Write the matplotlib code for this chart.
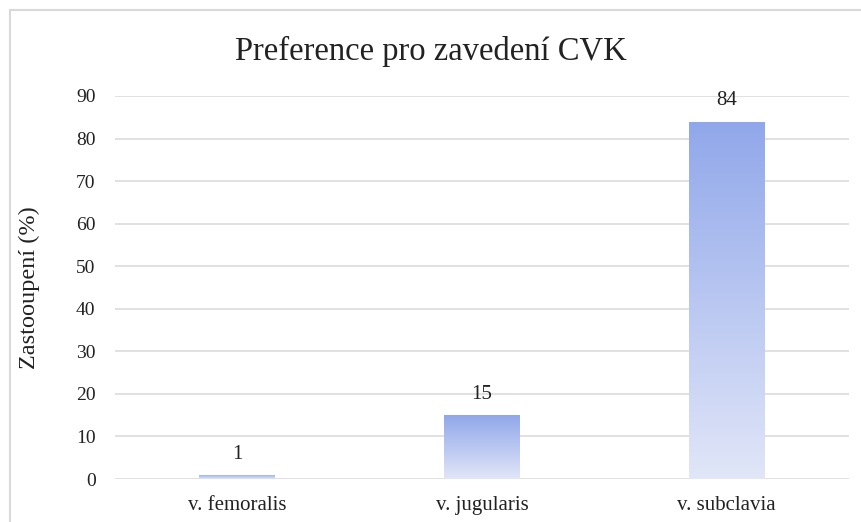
import numpy as np
import matplotlib.pyplot as plt
from matplotlib.patches import Rectangle
from matplotlib.colors import LinearSegmentedColormap

categories = ["v. femoralis", "v. jugularis", "v. subclavia"]
values = [1, 15, 84]
yticks = [0, 10, 20, 30, 40, 50, 60, 70, 80, 90]

plt.rcParams['font.family'] = ['Liberation Serif', 'DejaVu Serif']

W, H = 862, 522
fig = plt.figure(figsize=(W / 100, H / 100), dpi=100)
ax = fig.add_axes([115 / W, 1 - 479 / H, (849 - 115) / W, (479 - 96) / H])

# gradient fill: blue at top of each bar, pale at the bottom
cmap = LinearSegmentedColormap.from_list("grad", ["#E1E6F8", "#90A7EA"])
grad = np.linspace(0, 1, 256).reshape(-1, 1)
width = 0.31
x = np.arange(len(categories))
bars = ax.bar(x, values, width=width, color="none", edgecolor="none", zorder=3)
for b in bars:
    x0, y0 = b.get_x(), b.get_y()
    im = ax.imshow(grad, cmap=cmap, aspect="auto", origin="lower",
                   extent=[x0, x0 + b.get_width(), y0, y0 + b.get_height()],
                   zorder=3)
    im.set_clip_path(b)

for xi, v in zip(x, values):
    ax.text(xi, v + 2.6, str(v), ha="center", va="bottom", fontsize=15, color="#222222")

ax.set_xlim(-0.5, 2.5)
ax.set_ylim(0, 90)
ax.set_yticks(yticks)
ax.set_xticks(x)
ax.set_xticklabels(categories)
ax.tick_params(axis="both", length=0, colors="#222222")
ax.tick_params(axis="y", pad=14, labelsize=14)
ax.tick_params(axis="x", pad=12, labelsize=15)
ax.grid(axis="y", color="#D9D9D9", linewidth=1.1, zorder=0)
ax.set_axisbelow(True)
for s in ax.spines.values():
    s.set_visible(False)

ax.set_ylabel("Zastooupení (%)", fontsize=17.5, color="#222222", va="center")
ax.yaxis.set_label_coords((29 - 115) / (849 - 115), 0.5)
fig.text(0.5, 1 - 60 / H, "Preference pro zavedení CVK", ha="center", va="baseline",
         fontsize=23.5, color="#222222")

# chart border (cropped at right and bottom)
fig.add_artist(Rectangle((10 / W, -0.1), 2, 1.1 - 10 / H, transform=fig.transFigure,
                         fill=False, edgecolor="#D9D9D9", linewidth=1.5))

fig.savefig("out.png", dpi=100)
